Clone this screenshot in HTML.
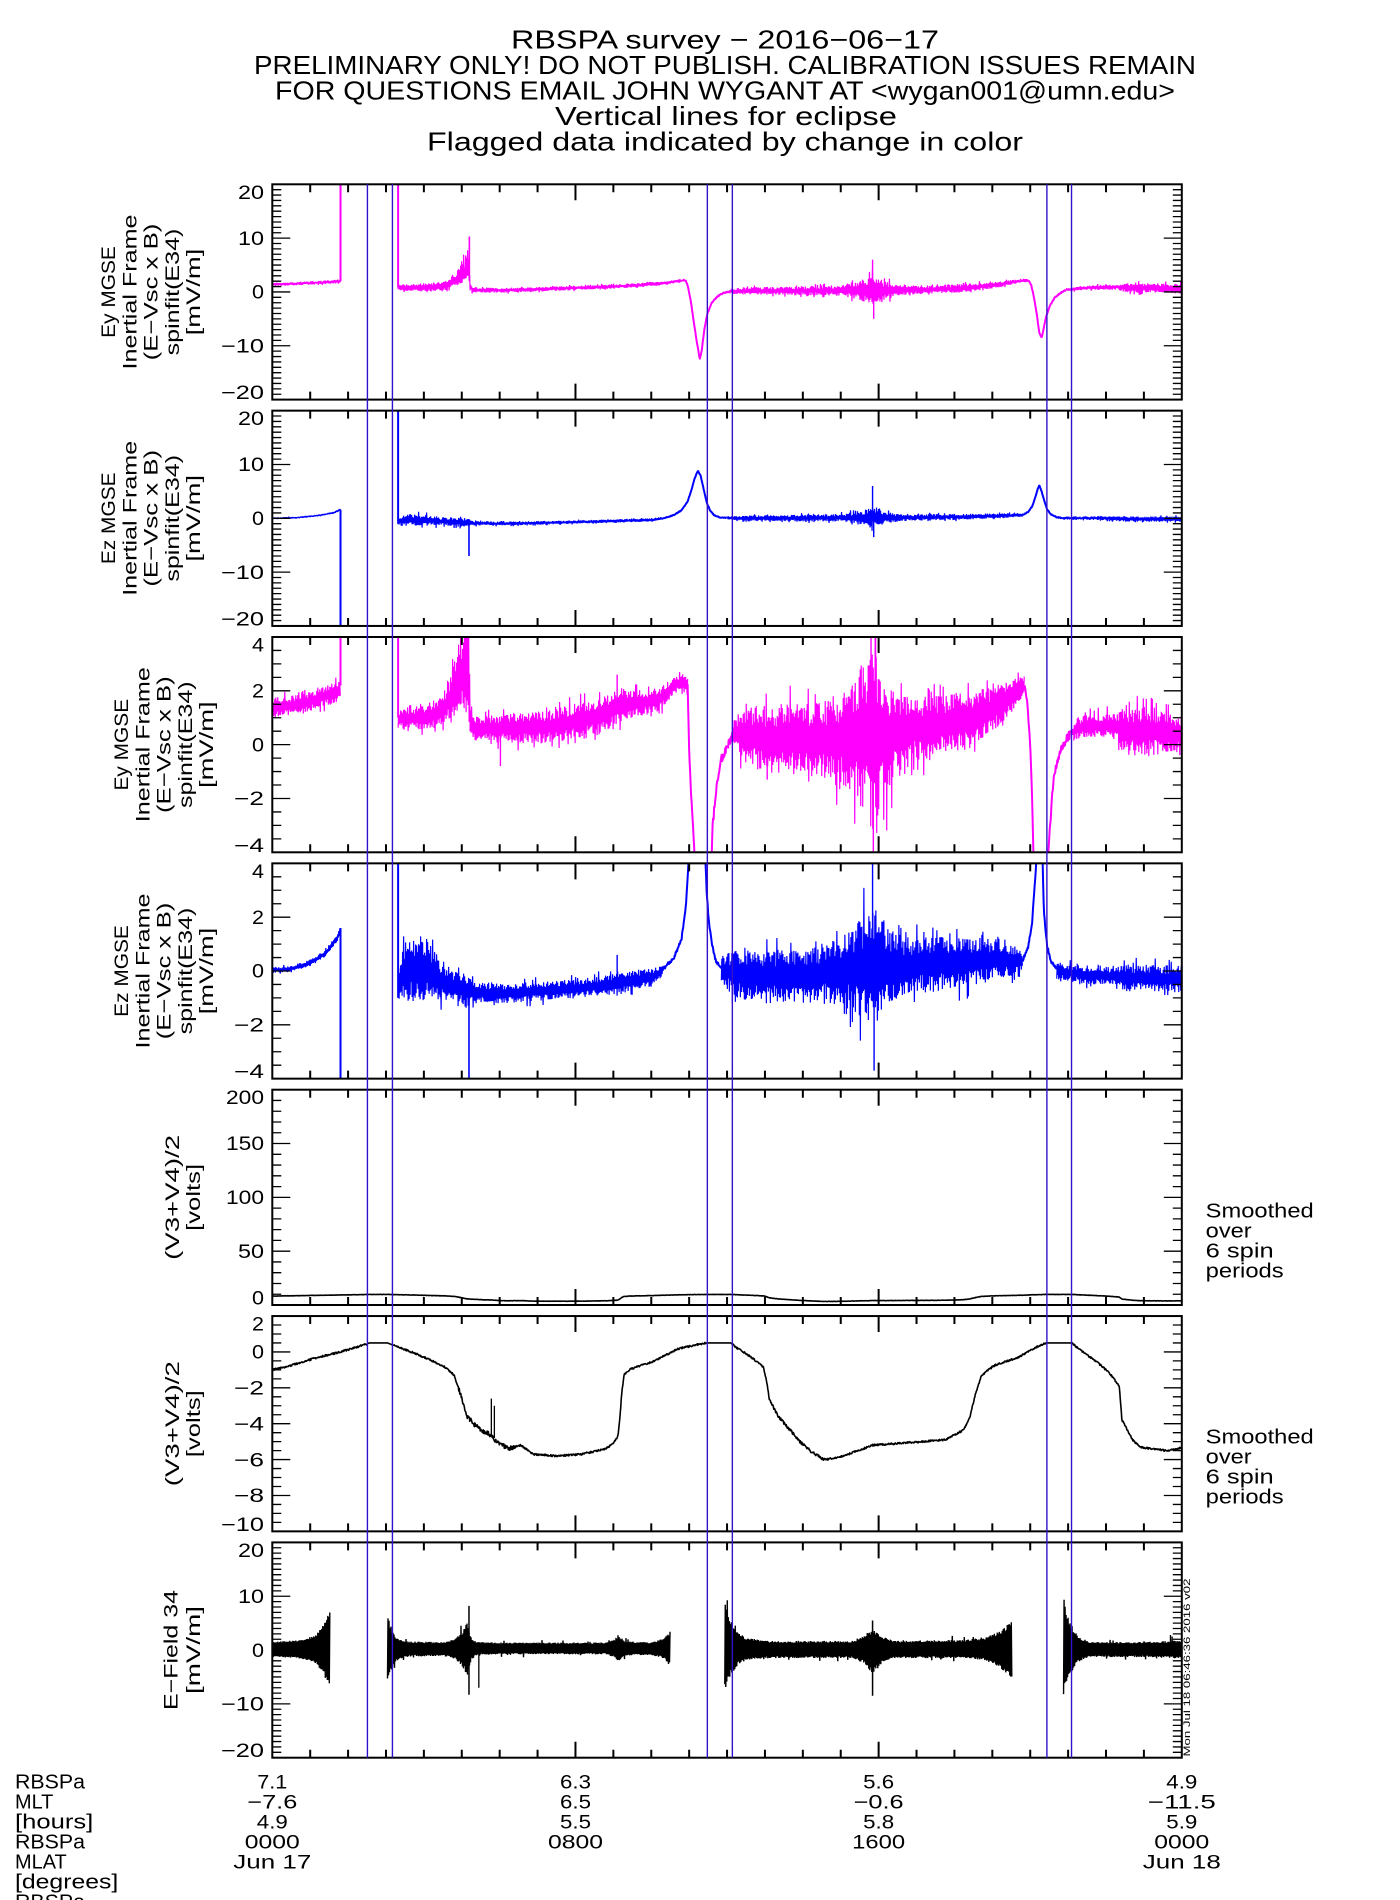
<!DOCTYPE html>
<html><head><meta charset="utf-8"><title>RBSPA survey 2016-06-17</title>
<style>
html,body{margin:0;padding:0;background:#fff;width:1400px;height:1900px;overflow:hidden;}
svg{display:block;}
text{font-family:"Liberation Sans",Arial,sans-serif;fill:#000;}
</style></head><body>
<svg id="chart" xmlns="http://www.w3.org/2000/svg" width="1400" height="1900" viewBox="0 0 1400 1900">
<rect x="0" y="0" width="1400" height="1900" fill="#fff"/>
<g id="data"></g>
<g id="axes" fill="none" stroke="#000"></g>

<g font-size="26" text-anchor="middle">
<text x="725" y="48.5" textLength="428" lengthAdjust="spacingAndGlyphs">RBSPA survey − 2016−06−17</text>
<text x="725" y="74" textLength="942" lengthAdjust="spacingAndGlyphs">PRELIMINARY ONLY! DO NOT PUBLISH. CALIBRATION ISSUES REMAIN</text>
<text x="725" y="99.5" textLength="900" lengthAdjust="spacingAndGlyphs">FOR QUESTIONS EMAIL JOHN WYGANT AT &lt;wygan001@umn.edu&gt;</text>
<text x="726" y="125" textLength="342" lengthAdjust="spacingAndGlyphs">Vertical lines for eclipse</text>
<text x="725" y="150.5" textLength="596" lengthAdjust="spacingAndGlyphs">Flagged data indicated by change in color</text>
</g>

<g font-size="19" text-anchor="end">
<text x="264" y="198.8" textLength="26" lengthAdjust="spacingAndGlyphs">20</text>
<text x="264" y="244.8" textLength="26" lengthAdjust="spacingAndGlyphs">10</text>
<text x="264" y="298.7" textLength="12" lengthAdjust="spacingAndGlyphs">0</text>
<text x="264" y="352.5" textLength="43" lengthAdjust="spacingAndGlyphs">−10</text>
<text x="264" y="399.1" textLength="43" lengthAdjust="spacingAndGlyphs">−20</text>

<text x="264" y="425.1" textLength="26" lengthAdjust="spacingAndGlyphs">20</text>
<text x="264" y="471.1" textLength="26" lengthAdjust="spacingAndGlyphs">10</text>
<text x="264" y="525.0" textLength="12" lengthAdjust="spacingAndGlyphs">0</text>
<text x="264" y="578.8" textLength="43" lengthAdjust="spacingAndGlyphs">−10</text>
<text x="264" y="625.4" textLength="43" lengthAdjust="spacingAndGlyphs">−20</text>

<text x="264" y="651.5" textLength="12" lengthAdjust="spacingAndGlyphs">4</text>
<text x="264" y="697.5" textLength="12" lengthAdjust="spacingAndGlyphs">2</text>
<text x="264" y="751.4" textLength="12" lengthAdjust="spacingAndGlyphs">0</text>
<text x="264" y="805.2" textLength="30" lengthAdjust="spacingAndGlyphs">−2</text>
<text x="264" y="851.8" textLength="30" lengthAdjust="spacingAndGlyphs">−4</text>

<text x="264" y="877.8" textLength="12" lengthAdjust="spacingAndGlyphs">4</text>
<text x="264" y="923.8" textLength="12" lengthAdjust="spacingAndGlyphs">2</text>
<text x="264" y="977.7" textLength="12" lengthAdjust="spacingAndGlyphs">0</text>
<text x="264" y="1031.5" textLength="30" lengthAdjust="spacingAndGlyphs">−2</text>
<text x="264" y="1078.1" textLength="30" lengthAdjust="spacingAndGlyphs">−4</text>

<text x="264" y="1104.2" textLength="38" lengthAdjust="spacingAndGlyphs">200</text>
<text x="264" y="1150.2" textLength="38" lengthAdjust="spacingAndGlyphs">150</text>
<text x="264" y="1204.1" textLength="38" lengthAdjust="spacingAndGlyphs">100</text>
<text x="264" y="1257.9" textLength="26" lengthAdjust="spacingAndGlyphs">50</text>
<text x="264" y="1304.5" textLength="12" lengthAdjust="spacingAndGlyphs">0</text>

<text x="264" y="1330.5" textLength="12" lengthAdjust="spacingAndGlyphs">2</text>
<text x="264" y="1358.6" textLength="12" lengthAdjust="spacingAndGlyphs">0</text>
<text x="264" y="1394.5" textLength="30" lengthAdjust="spacingAndGlyphs">−2</text>
<text x="264" y="1430.4" textLength="30" lengthAdjust="spacingAndGlyphs">−4</text>
<text x="264" y="1466.3" textLength="30" lengthAdjust="spacingAndGlyphs">−6</text>
<text x="264" y="1502.1" textLength="30" lengthAdjust="spacingAndGlyphs">−8</text>
<text x="264" y="1530.8" textLength="43" lengthAdjust="spacingAndGlyphs">−10</text>

<text x="264" y="1556.9" textLength="26" lengthAdjust="spacingAndGlyphs">20</text>
<text x="264" y="1602.9" textLength="26" lengthAdjust="spacingAndGlyphs">10</text>
<text x="264" y="1656.8" textLength="12" lengthAdjust="spacingAndGlyphs">0</text>
<text x="264" y="1710.6" textLength="43" lengthAdjust="spacingAndGlyphs">−10</text>
<text x="264" y="1757.2" textLength="43" lengthAdjust="spacingAndGlyphs">−20</text>
</g>

<g font-size="19" text-anchor="middle">
<text transform="translate(115,292) rotate(-90)" textLength="91.7" lengthAdjust="spacingAndGlyphs">Ey MGSE</text>
<text transform="translate(136.3,292) rotate(-90)" textLength="155" lengthAdjust="spacingAndGlyphs">Inertial Frame</text>
<text transform="translate(157.6,292) rotate(-90)" textLength="136.7" lengthAdjust="spacingAndGlyphs">(E−Vsc x B)</text>
<text transform="translate(178.9,292) rotate(-90)" textLength="126.7" lengthAdjust="spacingAndGlyphs">spinfit(E34)</text>
<text transform="translate(200.2,292) rotate(-90)" textLength="86.7" lengthAdjust="spacingAndGlyphs">[mV/m]</text>

<text transform="translate(115,518.3) rotate(-90)" textLength="91.7" lengthAdjust="spacingAndGlyphs">Ez MGSE</text>
<text transform="translate(136.3,518.3) rotate(-90)" textLength="155" lengthAdjust="spacingAndGlyphs">Inertial Frame</text>
<text transform="translate(157.6,518.3) rotate(-90)" textLength="136.7" lengthAdjust="spacingAndGlyphs">(E−Vsc x B)</text>
<text transform="translate(178.9,518.3) rotate(-90)" textLength="126.7" lengthAdjust="spacingAndGlyphs">spinfit(E34)</text>
<text transform="translate(200.2,518.3) rotate(-90)" textLength="86.7" lengthAdjust="spacingAndGlyphs">[mV/m]</text>

<text transform="translate(128,744.7) rotate(-90)" textLength="91.7" lengthAdjust="spacingAndGlyphs">Ey MGSE</text>
<text transform="translate(149.3,744.7) rotate(-90)" textLength="155" lengthAdjust="spacingAndGlyphs">Inertial Frame</text>
<text transform="translate(170.6,744.7) rotate(-90)" textLength="136.7" lengthAdjust="spacingAndGlyphs">(E−Vsc x B)</text>
<text transform="translate(191.9,744.7) rotate(-90)" textLength="126.7" lengthAdjust="spacingAndGlyphs">spinfit(E34)</text>
<text transform="translate(213.2,744.7) rotate(-90)" textLength="86.7" lengthAdjust="spacingAndGlyphs">[mV/m]</text>

<text transform="translate(128,971) rotate(-90)" textLength="91.7" lengthAdjust="spacingAndGlyphs">Ez MGSE</text>
<text transform="translate(149.3,971) rotate(-90)" textLength="155" lengthAdjust="spacingAndGlyphs">Inertial Frame</text>
<text transform="translate(170.6,971) rotate(-90)" textLength="136.7" lengthAdjust="spacingAndGlyphs">(E−Vsc x B)</text>
<text transform="translate(191.9,971) rotate(-90)" textLength="126.7" lengthAdjust="spacingAndGlyphs">spinfit(E34)</text>
<text transform="translate(213.2,971) rotate(-90)" textLength="86.7" lengthAdjust="spacingAndGlyphs">[mV/m]</text>

<text transform="translate(178.9,1197.4) rotate(-90)" textLength="125" lengthAdjust="spacingAndGlyphs">(V3+V4)/2</text>
<text transform="translate(200.2,1197.4) rotate(-90)" textLength="67" lengthAdjust="spacingAndGlyphs">[volts]</text>

<text transform="translate(178.9,1423.7) rotate(-90)" textLength="125" lengthAdjust="spacingAndGlyphs">(V3+V4)/2</text>
<text transform="translate(200.2,1423.7) rotate(-90)" textLength="67" lengthAdjust="spacingAndGlyphs">[volts]</text>

<text transform="translate(177.5,1650) rotate(-90)" textLength="120" lengthAdjust="spacingAndGlyphs">E−Field 34</text>
<text transform="translate(200,1650) rotate(-90)" textLength="88" lengthAdjust="spacingAndGlyphs">[mV/m]</text>
</g>

<g font-size="20">
<text x="1205.7" y="1217.3" textLength="108" lengthAdjust="spacingAndGlyphs">Smoothed</text>
<text x="1205.7" y="1237.3" textLength="46" lengthAdjust="spacingAndGlyphs">over</text>
<text x="1205.7" y="1257.3" textLength="68" lengthAdjust="spacingAndGlyphs">6 spin</text>
<text x="1205.7" y="1277.3" textLength="78" lengthAdjust="spacingAndGlyphs">periods</text>
<text x="1205.7" y="1443.6" textLength="108" lengthAdjust="spacingAndGlyphs">Smoothed</text>
<text x="1205.7" y="1463.6" textLength="46" lengthAdjust="spacingAndGlyphs">over</text>
<text x="1205.7" y="1483.6" textLength="68" lengthAdjust="spacingAndGlyphs">6 spin</text>
<text x="1205.7" y="1503.6" textLength="78" lengthAdjust="spacingAndGlyphs">periods</text>
</g>

<text transform="translate(1190,1667.5) rotate(-90)" font-size="9" text-anchor="middle" textLength="178" lengthAdjust="spacingAndGlyphs">Mon Jul 18 06:46:36 2016 v02</text>

<g font-size="20.5">
<text x="15" y="1788.3" textLength="70" lengthAdjust="spacingAndGlyphs">RBSPa</text>
<text x="15" y="1808.3" textLength="38.3" lengthAdjust="spacingAndGlyphs">MLT</text>
<text x="15" y="1828.3" textLength="78.3" lengthAdjust="spacingAndGlyphs">[hours]</text>
<text x="15" y="1848.3" textLength="70" lengthAdjust="spacingAndGlyphs">RBSPa</text>
<text x="15" y="1868.3" textLength="51.7" lengthAdjust="spacingAndGlyphs">MLAT</text>
<text x="15" y="1888.3" textLength="103.3" lengthAdjust="spacingAndGlyphs">[degrees]</text>
<text x="15" y="1908.3" textLength="70" lengthAdjust="spacingAndGlyphs">RBSPa</text>
</g>

<g font-size="19.5" text-anchor="middle">
<text x="272.3" y="1788.3" textLength="30" lengthAdjust="spacingAndGlyphs">7.1</text>
<text x="272.3" y="1808.3" textLength="50" lengthAdjust="spacingAndGlyphs">−7.6</text>
<text x="272.3" y="1828.3" textLength="31" lengthAdjust="spacingAndGlyphs">4.9</text>
<text x="272.3" y="1848.3" textLength="55" lengthAdjust="spacingAndGlyphs">0000</text>
<text x="272.3" y="1868.3" textLength="78" lengthAdjust="spacingAndGlyphs">Jun 17</text>

<text x="575.5" y="1788.3" textLength="31" lengthAdjust="spacingAndGlyphs">6.3</text>
<text x="575.5" y="1808.3" textLength="31" lengthAdjust="spacingAndGlyphs">6.5</text>
<text x="575.5" y="1828.3" textLength="31" lengthAdjust="spacingAndGlyphs">5.5</text>
<text x="575.5" y="1848.3" textLength="55" lengthAdjust="spacingAndGlyphs">0800</text>

<text x="878.6" y="1788.3" textLength="31" lengthAdjust="spacingAndGlyphs">5.6</text>
<text x="878.6" y="1808.3" textLength="50" lengthAdjust="spacingAndGlyphs">−0.6</text>
<text x="878.6" y="1828.3" textLength="31" lengthAdjust="spacingAndGlyphs">5.8</text>
<text x="878.6" y="1848.3" textLength="53" lengthAdjust="spacingAndGlyphs">1600</text>

<text x="1181.8" y="1788.3" textLength="31" lengthAdjust="spacingAndGlyphs">4.9</text>
<text x="1181.8" y="1808.3" textLength="68" lengthAdjust="spacingAndGlyphs">−11.5</text>
<text x="1181.8" y="1828.3" textLength="31" lengthAdjust="spacingAndGlyphs">5.9</text>
<text x="1181.8" y="1848.3" textLength="55" lengthAdjust="spacingAndGlyphs">0000</text>
<text x="1181.8" y="1868.3" textLength="78" lengthAdjust="spacingAndGlyphs">Jun 18</text>
</g>

<g id="ecl"></g>
</svg>
<script>
(function(){
var NS="http://www.w3.org/2000/svg";
var svg=document.getElementById('chart');
var dataG=document.getElementById('data');
var axesG=document.getElementById('axes');
var eclG=document.getElementById('ecl');
var X0=272.3,X1=1181.8,HR=(X1-X0)/24;
var T0=184.3,DP=226.35,H=215.3;
var R=[[-20,20],[-20,20],[-4,4],[-4,4],[0,200],[-10,2],[-20,20]];
function top(i){return T0+DP*i;}
function bot(i){return T0+DP*i+H;}
function X(t){return X0+t*HR;}
function Y(i,v){return bot(i)-(v-R[i][0])/(R[i][1]-R[i][0])*H;}
var s=987654321;
function rnd(){s^=s<<13;s^=s>>>17;s^=s<<5;return ((s>>>0)%1000003)/1000003;}
function el(tag,a,p){var e=document.createElementNS(NS,tag);for(var k in a)e.setAttribute(k,a[k]);(p||svg).appendChild(e);return e;}
var defs=el('defs',{});
svg.insertBefore(defs,svg.firstChild);
var L=[];
for(var i=0;i<7;i++){
  var cp=el('clipPath',{id:'c'+i},defs);
  el('rect',{x:X0,y:top(i),width:X1-X0,height:H},cp);
  L.push(el('g',{'clip-path':'url(#c'+i+')'},dataG));
}
function norm(keys){return keys.map(function(k){return k.length===3?[k[0],k[1],k[2],k[2]]:k;});}
function iv(keys,t,k){
  var n=keys.length;
  if(t<=keys[0][0])return keys[0][k];
  if(t>=keys[n-1][0])return keys[n-1][k];
  for(var j=1;j<n;j++){if(t<=keys[j][0]){var a=keys[j-1],b=keys[j];var d=(b[0]-a[0])||1e-9;var f=(t-a[0])/d;return a[k]+(b[k]-a[k])*f;}}
  return keys[n-1][k];
}
var M='#ff00ff',B='#0000ff',K='#000000';
function band(i,keys,col,sp,w,fmin){
  keys=norm(keys);sp=(sp===undefined)?0.08:sp;w=w||1.2;fmin=(fmin===undefined)?0.35:fmin;
  var xa=X(keys[0][0]),xb=X(keys[keys.length-1][0]);
  var pts=[],flip=0;
  for(var x=xa;x<=xb+0.001;x+=0.5){
    var t=(x-X0)/HR;
    var c=iv(keys,t,1),up=iv(keys,t,2),dn=iv(keys,t,3);
    var r=rnd();
    var f=r<sp?1+0.5*rnd():fmin+(1-fmin)*rnd();
    var v=flip?c+up*f:c-dn*f;
    flip^=1;
    pts.push(x.toFixed(2)+','+Y(i,v).toFixed(2));
  }
  el('polyline',{points:pts.join(' '),fill:'none',stroke:col,'stroke-width':w,'stroke-linejoin':'bevel'},L[i]);
}
function line(i,keys,col,noise,w){
  var xa=X(keys[0][0]),xb=X(keys[keys.length-1][0]);
  var pts=[];
  for(var x=xa;x<=xb+0.001;x+=0.5){
    var t=(x-X0)/HR;
    var nz=(typeof noise==='function')?noise(t):(noise||0);
    var v=iv(keys,t,1)+nz*(rnd()*2-1);
    pts.push(x.toFixed(2)+','+Y(i,v).toFixed(2));
  }
  el('polyline',{points:pts.join(' '),fill:'none',stroke:col,'stroke-width':w||1.8,'stroke-linejoin':'round'},L[i]);
}
function vl(i,t,v1,v2,col,w){
  el('line',{x1:X(t),x2:X(t),y1:Y(i,v1),y2:Y(i,v2),stroke:col,'stroke-width':w||1.8},L[i]);
}

/* ---------- Panel 1 : Ey MGSE (+-20) ---------- */
band(0,[[0,1.4,0.3],[0.8,1.6,0.3],[1.5,1.85,0.35],[1.80,2.0,0.35]],M,0.05);
vl(0,1.80,2.0,30,M,2);
vl(0,3.32,30,0.8,M,2);
band(0,[[3.32,0.8,0.5],[4.0,0.8,0.8],[4.5,1.0,0.9],[4.8,1.8,1.6,0.8],[5.05,3,3,1.2],[5.18,4,5,1.5],[5.22,1,0.8],[5.3,0.4,0.5],[6,0.3,0.45],[7,0.5,0.4],[9,1.0,0.4],[10.3,1.6,0.35],[10.8,2.1,0.25],[10.9,2.2,0.2]],M);
vl(0,5.20,2,10.3,M,1.6);
line(0,[[10.9,2.2],[10.97,1.0],[11.05,-2],[11.13,-6],[11.22,-10],[11.28,-12.5],[11.33,-11],[11.4,-7],[11.48,-4],[11.6,-2],[11.75,-0.8],[11.9,-0.2],[12.05,0.1]],M,0.1,2);
band(0,[[12.05,0.1,0.4],[12.5,0.2,0.7],[14,0.2,0.8],[15.0,0.3,1.0],[15.5,0.3,1.8],[15.84,0.3,3,2.8],[16.2,0.3,1.6],[16.6,0.3,0.9],[18,0.6,0.8],[19,1.2,0.6],[19.6,1.9,0.4],[19.95,2.2,0.3]],M);
vl(0,15.84,0.3,6,M,1.4);vl(0,15.87,0.3,-5,M,1.4);
line(0,[[19.95,2.2],[20.03,1.2],[20.1,-1],[20.17,-4],[20.24,-7.5],[20.3,-8.6],[20.35,-7],[20.42,-4.5],[20.52,-2.5],[20.65,-1],[20.8,-0.2],[20.95,0.4]],M,0.1,2);
band(0,[[20.95,0.4,0.3],[21.5,0.8,0.4],[22.3,0.9,0.5],[22.5,0.8,0.9],[24,0.6,0.9]],M);

/* ---------- Panel 2 : Ez MGSE (+-20) ---------- */
band(1,[[0,0.0,0.15],[0.6,0.1,0.15],[1.2,0.5,0.15],[1.6,1.0,0.18],[1.8,1.6,0.2]],B,0.03);
vl(1,1.80,1.6,-30,B,2);
vl(1,3.32,30,-1,B,2);
band(1,[[3.32,-0.6,0.6],[3.5,-0.3,1.1],[4.2,-0.4,1.0],[4.5,-0.6,0.7],[5.1,-0.8,0.9],[5.3,-0.9,0.4],[6,-1.0,0.35],[8,-0.7,0.3],[10,-0.3,0.3],[10.3,0,0.25]],B);
vl(1,5.19,-0.8,-7,B,1.6);
line(1,[[10.3,0],[10.6,0.6],[10.8,1.5],[10.95,3],[11.05,5],[11.15,7.5],[11.23,8.8],[11.3,8],[11.38,5.5],[11.46,3],[11.55,1.5],[11.65,0.6],[11.8,0.2],[12,0.1]],B,0.08,2);
band(1,[[12,0.1,0.3],[12.5,0.0,0.5],[15,0.1,0.7],[15.5,0.1,1.2],[15.84,0.2,2.2,1.8],[16.2,0.1,1.1],[16.6,0.1,0.6],[19,0.4,0.5],[19.8,0.6,0.3]],B);
vl(1,15.84,0.2,6,B,1.4);vl(1,15.87,0.2,-3.5,B,1.4);
line(1,[[19.8,0.6],[19.95,1.2],[20.05,2.2],[20.13,3.8],[20.2,5.5],[20.24,6.2],[20.3,5],[20.38,3],[20.45,1.6],[20.55,0.7],[20.7,0.2],[20.85,0.05]],B,0.08,2);
band(1,[[20.85,0.05,0.3],[22,0,0.35],[22.4,-0.1,0.5],[24,-0.2,0.5]],B);

/* ---------- Panel 3 : Ey zoom (+-4) ---------- */
band(2,[[0,1.4,0.36],[0.5,1.45,0.36],[1.0,1.6,0.36],[1.5,1.85,0.37],[1.80,2.0,0.4]],M);
vl(2,1.80,2.2,6,M,2);
vl(2,3.32,6,1.0,M,2);
band(2,[[3.32,0.95,0.4],[4,1.0,0.45],[4.5,1.3,0.55],[4.8,1.9,1.1,0.9],[5.0,2.5,1.8,1.3],[5.17,3.0,2.5,1.8],[5.22,1.0,0.6],[5.35,0.6,0.45],[6,0.6,0.55],[7.3,0.67,0.6],[8.65,1.05,0.7],[9.2,1.45,0.65],[9.5,1.5,0.5],[10.2,1.65,0.45],[10.67,2.3,0.3],[10.96,2.2,0.3]],M);
vl(2,6.02,0.6,-0.8,M,1.4);vl(2,9.1,1.4,2.6,M,1.4);vl(2,5.1,2,6,M,1.4);vl(2,4.97,1.5,5,M,1.4);
line(2,[[10.96,2.2],[11.0,-0.2],[11.05,-1.8],[11.12,-3.5],[11.17,-5]],M,0.05,2);
line(2,[[11.58,-5],[11.62,-3],[11.69,-2],[11.75,-1.3],[11.83,-0.6],[11.99,-0.1],[12.15,0.35]],M,0.15,2);
band(2,[[12.15,0.35,0.5],[12.3,0.4,0.9],[13,0.2,1.3],[14.5,0.15,1.4],[15.0,0.2,1.8],[15.5,0.3,2.6],[15.84,0.3,3.5,3.5],[16.2,0.3,2.4],[16.5,0.4,1.5],[17,0.6,1.2],[18.4,0.9,1.1],[19.0,1.3,0.9],[19.5,1.8,0.6],[19.85,2.2,0.35]],M,0.06);
vl(2,13.06,0.2,-1.3,M,1.4);vl(2,15.8,0.3,5,M,1.4);vl(2,15.86,0.3,-5,M,1.4);vl(2,15.92,0.3,5,M,1.4);
line(2,[[19.85,2.2],[19.92,1.6],[20.0,0],[20.05,-2],[20.1,-5]],M,0.05,2);
line(2,[[20.45,-5],[20.5,-3.5],[20.6,-1.5],[20.7,-0.7],[20.8,-0.2],[21.0,0.3],[21.15,0.55]],M,0.15,2);
band(2,[[21.15,0.55,0.4],[21.5,0.7,0.45],[22.3,0.7,0.5],[22.45,0.5,0.9],[23.2,0.5,0.9],[24,0.4,0.8]],M);

/* ---------- Panel 4 : Ez zoom (+-4) ---------- */
band(3,[[0,0.02,0.1],[0.5,0.08,0.12],[1.0,0.3,0.12],[1.4,0.65,0.14],[1.7,1.2,0.15],[1.8,1.6,0.15]],B,0.03);
vl(3,1.80,1.6,-6,B,2);
vl(3,3.32,6,-1.0,B,2);
band(3,[[3.32,-0.5,0.6],[3.5,0.0,1.1],[4.0,0.1,1.25],[4.3,-0.2,0.9],[4.6,-0.5,0.6],[5.1,-0.7,0.7],[5.3,-0.8,0.4],[6,-0.85,0.38],[8,-0.65,0.35],[9.0,-0.5,0.4],[10,-0.25,0.35],[10.3,0.0,0.2]],B);
vl(3,5.19,-0.7,-5,B,1.6);vl(3,9.1,-0.5,0.6,B,1.4);
line(3,[[10.3,0.05],[10.6,0.5],[10.8,1.2],[10.92,2.5],[11.0,4.5],[11.42,4.5],[11.46,3],[11.52,1.8],[11.6,1.0],[11.7,0.4],[11.85,0.1]],B,0.06,2);
band(3,[[11.85,0.05,0.5],[12.2,-0.1,0.9],[13,-0.2,1.0],[14.5,-0.1,1.0],[15,0,1.3],[15.5,0.1,1.9],[15.84,0.1,2.6,2.4],[16.2,0.1,1.7],[16.6,0.2,1.1],[18,0.3,1.0],[19,0.4,0.8],[19.5,0.4,0.6],[19.8,0.4,0.4]],B,0.06);
vl(3,15.84,0.1,4.5,B,1.4);vl(3,15.88,0.1,-3.7,B,1.4);
line(3,[[19.8,0.4],[19.95,0.9],[20.05,1.8],[20.12,3.2],[20.18,4.5],[20.32,4.5],[20.36,2.2],[20.45,0.9],[20.55,0.35],[20.7,0.1]],B,0.06,2);
band(3,[[20.7,0.0,0.3],[21.5,-0.15,0.35],[22.3,-0.2,0.35],[22.5,-0.25,0.5],[24,-0.3,0.5]],B);

/* ---------- Panels 5 & 6 : (V3+V4)/2 ---------- */
var V=[[0,-1.0],[0.5,-0.75],[1.12,-0.35],[1.8,0.0],[2.4,0.38],[2.56,0.5],[3.04,0.5],[3.1,0.45],[3.36,0.24],[3.8,-0.1],[4.32,-0.6],[4.6,-0.9],[4.8,-1.3],[4.96,-2.3],[5.12,-3.5],[5.3,-4.0],[5.44,-4.2],[5.6,-4.5],[5.76,-4.6],[5.92,-5.0],[6.24,-5.4],[6.56,-5.2],[6.88,-5.7],[7.52,-5.8],[8.16,-5.7],[8.8,-5.4],[9.0,-5.1],[9.12,-4.7],[9.18,-3.5],[9.22,-2.3],[9.28,-1.3],[9.44,-0.97],[10.08,-0.5],[10.72,0.18],[11.3,0.45],[11.45,0.5],[12.1,0.5],[12.25,0.24],[12.64,-0.3],[12.96,-0.84],[13.04,-1.6],[13.12,-2.66],[13.35,-3.6],[13.6,-4.2],[13.92,-5.0],[14.25,-5.6],[14.56,-6.0],[14.9,-5.9],[15.2,-5.7],[15.84,-5.2],[16.5,-5.1],[17.12,-5.0],[17.76,-4.9],[18.24,-4.35],[18.4,-3.7],[18.56,-2.3],[18.72,-1.3],[19.04,-0.77],[19.68,-0.3],[20.1,0.2],[20.4,0.5],[21.1,0.5],[21.28,0.18],[21.84,-0.7],[22.1,-1.2],[22.35,-1.9],[22.42,-3.8],[22.5,-4.1],[22.7,-4.9],[22.9,-5.3],[23.2,-5.4],[23.6,-5.5],[24,-5.35]];
function vnoise(t){if(t>4.9&&t<6.4)return 0.14;if(t>13&&t<14.6)return 0.08;if((t>2.5&&t<3.2)||(t>11.45&&t<12.15)||(t>20.4&&t<21.1))return 0.0;return 0.05;}
line(5,V,K,vnoise,1.6);
vl(5,5.78,-4.6,-2.6,K,1.3);vl(5,5.86,-4.8,-3.0,K,1.3);
var V5=V.map(function(p){return [p[0],p[1]+9.3];});
line(4,V5,K,0.15,1.6);

/* ---------- Panel 7 : E-Field 34 ---------- */
band(6,[[0,0.15,1.4],[0.73,0.15,1.7],[1.13,0.15,2.6],[1.31,0.15,4.0],[1.44,0.2,6.0],[1.52,0.1,6.9]],K,0,1.4,0.82);
band(6,[[3.04,0.2,6.5,6.3],[3.1,0.2,5],[3.16,0.2,3.5],[3.24,0.2,2.5],[3.4,0.2,1.8],[3.6,0.2,1.4],[4.5,0.2,1.3],[4.8,0.2,1.8],[5.0,0.2,3],[5.15,0.2,5,5],[5.25,0.2,2],[5.4,0.3,1.2],[6,0.3,1.1],[8.8,0.3,1.1],[9.0,0.3,1.6],[9.15,0.3,2.4],[9.3,0.3,1.3],[10.0,0.3,1.2],[10.3,0.3,1.8],[10.5,0.3,3.3]],K,0.04,1.4,0.78);
vl(6,5.19,-8.3,8.2,K,1.5);vl(6,5.45,0.3,-7,K,1.3);
band(6,[[11.94,0.5,9.3,7.6],[12.0,0.4,7],[12.1,0.3,5],[12.3,0.2,3],[12.5,0.2,2.1],[13,0.1,1.6],[15.3,0.1,1.6],[15.6,0.1,2.5],[15.84,0.0,4,4.5],[16.1,0.1,2.5],[16.4,0.1,1.6],[18.3,0.2,1.7],[18.8,0.2,2.2],[19.1,0.2,3.0],[19.35,0.1,4.2],[19.52,0,5.8,6.2]],K,0.04,1.4,0.78);
vl(6,15.84,5.5,-8.5,K,1.5);
band(6,[[20.88,0.5,9.8,8.7],[20.95,0.4,7],[21.05,0.3,5],[21.2,0.2,3],[21.35,0.2,2],[21.6,0.1,1.4],[23,0.1,1.4],[24,0.1,1.7]],K,0.04,1.4,0.78);
vl(6,23.7,0.1,2.8,K,1.3);

/* ---------- Axes & ticks ---------- */
var TK=[[10,1],[10,1],[2,0.5],[2,0.5],[50,10],[2,0.5],[10,1]];
for(var p=0;p<7;p++){
  var tp=top(p),bt=bot(p);
  el('rect',{x:X0,y:tp,width:X1-X0,height:H,'stroke-width':2},axesG);
  var d='';
  for(var h=1;h<24;h++){
    var x=X(h).toFixed(2),ln=(h===8||h===16)?16:8;
    d+='M'+x+','+tp+'v'+ln+'M'+x+','+bt+'v-'+ln;
  }
  el('path',{d:d,'stroke-width':2},axesG);
  var mj=TK[p][0],mn=TK[p][1],a=R[p][0],b=R[p][1];
  var n=Math.round((b-a)/mn),dy='';
  for(var k=1;k<n;k++){
    var v=a+k*mn;var y=Y(p,v).toFixed(2);
    var r=v/mj;var isM=Math.abs(r-Math.round(r))<1e-6;
    var l=isM?18:9;
    dy+='M'+X0+','+y+'h'+l+'M'+X1+','+y+'h-'+l;
  }
  el('path',{d:dy,'stroke-width':1.3},axesG);
}

/* ---------- Eclipse lines ---------- */
[2.51,3.17,11.48,12.14,20.44,21.09].forEach(function(t){
  el('line',{x1:X(t),x2:X(t),y1:top(0),y2:bot(6),stroke:'#3311cc','stroke-width':1.4},eclG);
});
})();
</script>
</body></html>
